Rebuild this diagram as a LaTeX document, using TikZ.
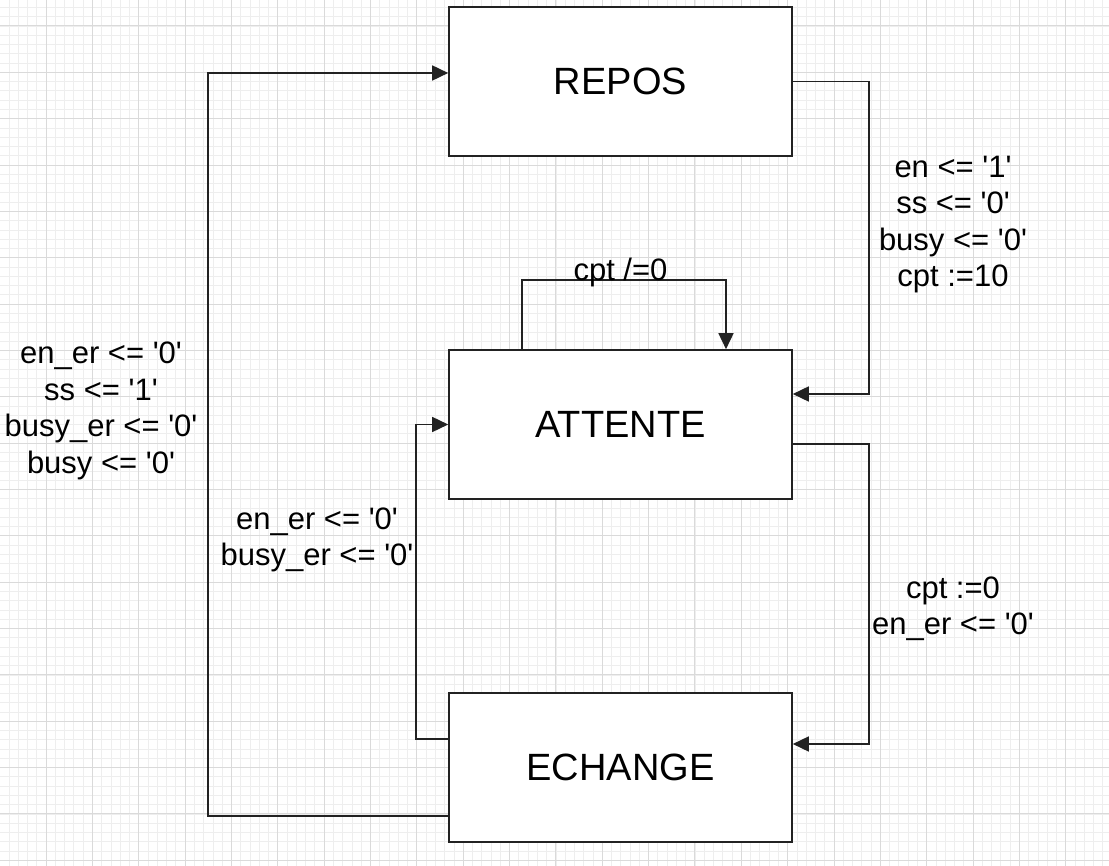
\documentclass[tikz,border=0pt]{standalone}
\usepackage{fontspec}
\setmainfont{Liberation Sans}
\usepackage{tikz}
\usetikzlibrary{arrows.meta}

\definecolor{gridfine}{HTML}{EEEEEE}
\definecolor{gridbold}{HTML}{DADADA}
\definecolor{ink}{HTML}{222222}
\newcommand{\tk}{\textquotesingle}

\begin{document}
\begin{tikzpicture}[x=1pt, y=-1pt]

	\tikzstyle{state} = [rectangle, draw=ink, line width=1.6pt, fill=white, minimum width=343pt, minimum height=149pt, inner sep=0pt, font=\fontsize{38}{44}\selectfont]
	\tikzstyle{edge} = [-{Triangle[length=16pt, width=15pt]}, draw=ink, line width=1.6pt]
	\tikzstyle{guard} = [align=center, inner sep=0pt, font=\fontsize{31}{36.5}\selectfont]

	\useasboundingbox (0,0) rectangle (1109,866);
%------------------------------------------------------------
	\begin{scope}
	\clip (0,0) rectangle (1109,866);
	\foreach \i in {0,...,120}
		\draw[gridfine, line width=0.8pt] ({\i*9.27-0.3},0) -- ({\i*9.27-0.3},866);
	\foreach \i in {-2,...,91}
		\draw[gridfine, line width=0.8pt] (0,{26+\i*9.27}) -- (1109,{26+\i*9.27});
	\foreach \i in {0,...,24}
		\draw[gridbold, line width=1pt] ({\i*46.35-0.3},0) -- ({\i*46.35-0.3},866);
	\foreach \i in {-1,...,18}
		\draw[gridbold, line width=1pt] (0,{26+\i*46.35}) -- (1109,{26+\i*46.35});
	\end{scope}
%------------------------------------------------------------
	\node[state] (repos) at (620.5,81.5) {REPOS};
	\node[state] (attente) at (620.5,424.5) {ATTENTE};
	\node[state] (echange) at (620.5,767.5) {ECHANGE};
%------------------------------------------------------------
	\draw[edge] (repos.east) -- ++(76,0) |- ([yshift=30.5pt]attente.east);
	\node[guard] (g_start) at (953,224.5) {en <= \tk1\tk\\ss <= \tk0\tk\\busy <= \tk0\tk\\cpt :=10};

	\draw[edge] ([xshift=-98.5pt]attente.north) -- ++(0,-69) -| ([xshift=105.5pt]attente.north);
	\node[guard] (g_wait) at (620.5,272) {cpt /=0};

	\draw[edge] ([yshift=-19.5pt]attente.east) -- ++(76,0) |- ([yshift=23.5pt]echange.east);
	\node[guard] (g_go) at (953,609) {cpt :=0\\en\_er <= \tk0\tk};

	\draw[edge] ([yshift=28.5pt]echange.west) -- ++(-32,0) |- (attente.west);
	\node[guard] (g_back) at (317,540) {en\_er <= \tk0\tk\\busy\_er <= \tk0\tk};

	\draw[edge] ([yshift=-48.5pt]echange.west) -- ++(-240,0) |- ([yshift=8.5pt]repos.west);
	\node[guard] (g_end) at (101,411) {en\_er <= \tk0\tk\\ss <= \tk1\tk\\busy\_er <= \tk0\tk\\busy <= \tk0\tk};

\end{tikzpicture}
\end{document}
